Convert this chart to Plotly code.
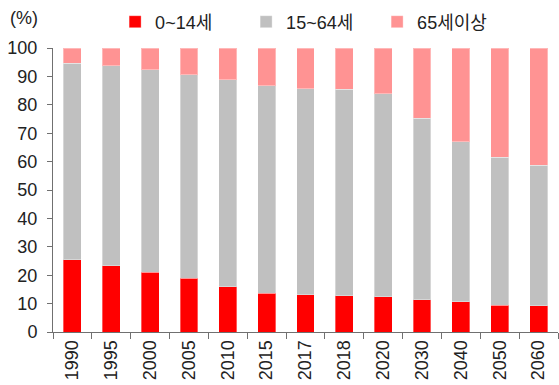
import plotly.graph_objects as go

years = ["1990", "1995", "2000", "2005", "2010", "2015", "2017", "2018", "2020", "2030", "2040", "2050", "2060"]
age_0_14 = [25.5, 23.3, 21.0, 18.9, 16.0, 13.6, 13.1, 12.8, 12.4, 11.3, 10.6, 9.5, 9.3]
age_15_64 = [69.1, 70.5, 71.4, 71.7, 72.8, 73.1, 72.6, 72.6, 71.5, 63.9, 56.4, 52.1, 49.4]
age_65_plus = [5.4, 6.2, 7.6, 9.4, 11.2, 13.3, 14.3, 14.6, 16.1, 24.8, 33.0, 38.4, 41.3]

series = [
    ("0~14세", age_0_14, "#FF0000"),
    ("15~64세", age_15_64, "#C0C0C0"),
    ("65세이상", age_65_plus, "#FF9393"),
]

FONT = "Liberation Sans, Arial, Noto Sans CJK KR, sans-serif"
TXT = "#222222"

fig = go.Figure()
for name, vals, color in series:
    fig.add_trace(go.Bar(
        x=years, y=vals, name=name,
        marker=dict(color=color, line=dict(color="rgba(255,255,255,0.35)", width=1)),
    ))

fig.update_layout(
    barmode="stack",
    bargap=0.54,
    width=559, height=385,
    margin=dict(l=53, r=1, t=48, b=53),
    paper_bgcolor="white",
    plot_bgcolor="white",
    font=dict(family=FONT, size=18, color=TXT),
    showlegend=True,
    legend=dict(
        orientation="h", x=0.123, xanchor="left", y=1.0915, yanchor="middle",
        font=dict(size=18, family=FONT, color=TXT),
        itemwidth=30, entrywidth=86, entrywidthmode="pixels",
        traceorder="normal", bgcolor="rgba(0,0,0,0)",
    ),
    annotations=[dict(
        text="(%)", xref="paper", yref="paper", x=-0.089, y=1.1056,
        xanchor="left", yanchor="middle", showarrow=False,
        font=dict(size=18, family=FONT, color=TXT),
    )],
)

fig.update_yaxes(
    range=[0, 100], dtick=10, showgrid=False, zeroline=False,
    showline=True, linecolor="#707070", linewidth=1,
    ticks="outside", ticklen=5, tickcolor="#707070",
    ticklabelstandoff=6, automargin=False,
    tickfont=dict(size=18, family=FONT, color=TXT),
)
fig.update_xaxes(
    type="category", showgrid=False,
    showline=True, linecolor="#707070", linewidth=1,
    ticks="outside", ticklen=6, tickcolor="#707070", tickson="boundaries",
    tickangle=-90, automargin=False,
    tickfont=dict(size=18, family=FONT, color=TXT),
)

fig.write_html("out.html")
